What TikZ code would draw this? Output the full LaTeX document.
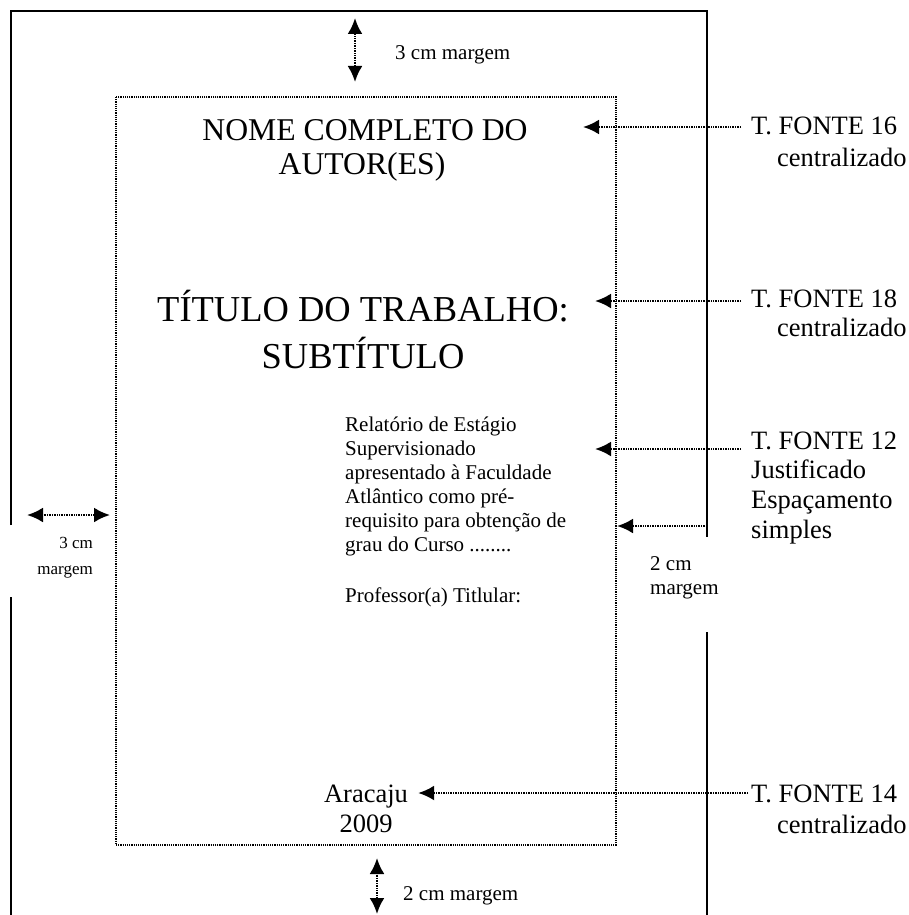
\documentclass[tikz,border=0pt]{standalone}
\usepackage{fontspec}
\setmainfont{Liberation Serif}
\usetikzlibrary{arrows.meta}
\begin{document}
\begin{tikzpicture}[x=1pt,y=-1pt,
  page/.style={line width=2pt,black},
  dotbox/.style={line width=1.5pt,dash pattern=on 1.2pt off 1pt},
  ptr/.style={line width=2.4pt,dash pattern=on 1pt off 0.7pt,-{Latex[length=16pt,width=15pt]}},
  dptr/.style={line width=2.4pt,dash pattern=on 1pt off 0.7pt,{Latex[length=16pt,width=15pt]}-{Latex[length=16pt,width=15pt]}},
  txt/.style={inner sep=0pt,anchor=base},
  txtw/.style={inner sep=0pt,anchor=base west},
  txte/.style={inner sep=0pt,anchor=base east},
  big/.style={font=\fontsize{31.7}{38}\selectfont},
  huge/.style={font=\fontsize{36.5}{42}\selectfont},
  body/.style={font=\fontsize{21}{24}\selectfont},
  lbl/.style={font=\fontsize{26.5}{30}\selectfont},
  mrg/.style={font=\fontsize{21}{24}\selectfont},
  smrg/.style={font=\fontsize{17}{20}\selectfont}]
\useasboundingbox (0,0) rectangle (909,915);
% page edges
\draw[page] (11,525) -- (11,11) -- (707,11) -- (707,537);
\draw[page] (11,597) -- (11,915);
\draw[page] (707,632) -- (707,915);
% text area
\draw[dotbox] (116,97) rectangle (616,845);
% margin arrows
\coordinate (tm1) at (355,18); \coordinate (tm2) at (355,82);
\draw[dptr] (tm1) -- (tm2);
\node[txtw,mrg] (tmtxt) at (395,60) {3 cm margem};
\coordinate (bm1) at (377,858); \coordinate (bm2) at (377,914);
\draw[dptr] (bm1) -- (bm2);
\node[txtw,mrg] (bmtxt) at (403,900) {2 cm margem};
\coordinate (lm1) at (27,515); \coordinate (lm2) at (110,515);
\draw[dptr] (lm1) -- (lm2);
\node[txte,smrg] (lmtxt1) at (93,548) {3 cm};
\node[txte,smrg] (lmtxt2) at (93,574) {margem};
\coordinate (rm1) at (707,526); \coordinate (rm2) at (617,526);
\draw[ptr] (rm1) -- (rm2);
\node[txtw,mrg] (rmtxt1) at (650,570) {2 cm};
\node[txtw,mrg] (rmtxt2) at (650,594) {margem};
% page content
\node[txt,big] (nome1) at (365,140) {NOME COMPLETO DO};
\node[txt,big] (nome2) at (362,174) {AUTOR(ES)};
\node[txt,huge] (tit1) at (363,321) {TÍTULO DO TRABALHO:};
\node[txt,huge] (tit2) at (363,368) {SUBTÍTULO};
\node[txtw,body] (b1) at (345,431) {Relatório de Estágio};
\node[txtw,body] (b2) at (345,455) {Supervisionado};
\node[txtw,body] (b3) at (345,479) {apresentado à Faculdade};
\node[txtw,body] (b4) at (345,503) {Atlântico como pré-};
\node[txtw,body] (b5) at (345,527) {requisito para obtenção de};
\node[txtw,body] (b6) at (345,551) {grau do Curso ........};
\node[txtw,body] (b7) at (345,602) {Professor(a) Titlular:};
\node[txt,lbl] (city) at (366,802) {Aracaju};
\node[txt,lbl] (year) at (366,832) {2009};
% labels on the right
\node[txtw,lbl] (l16a) at (751,135) {T. FONTE 16};
\node[txtw,lbl] (l16b) at (777,166) {centralizado};
\node[txtw,lbl] (l18a) at (751,307) {T. FONTE 18};
\node[txtw,lbl] (l18b) at (777,336) {centralizado};
\node[txtw,lbl] (l12a) at (751,449) {T. FONTE 12};
\node[txtw,lbl] (l12b) at (751,478) {Justificado};
\node[txtw,lbl] (l12c) at (751,508) {Espaçamento};
\node[txtw,lbl] (l12d) at (751,538) {simples};
\node[txtw,lbl] (l14a) at (751,802) {T. FONTE 14};
\node[txtw,lbl] (l14b) at (777,833) {centralizado};
% pointers
\draw[ptr] ([xshift=-10pt]l16a.west |- 0,127) -- (583,127);
\draw[ptr] ([xshift=-10pt]l18a.west |- 0,301) -- (595,301);
\draw[ptr] ([xshift=-10pt]l12a.west |- 0,449) -- (595,449);
\draw[ptr] ([xshift=-3pt]l14a.west |- 0,793) -- ([xshift=10pt]city.east |- 0,793);
\end{tikzpicture}
\end{document}
